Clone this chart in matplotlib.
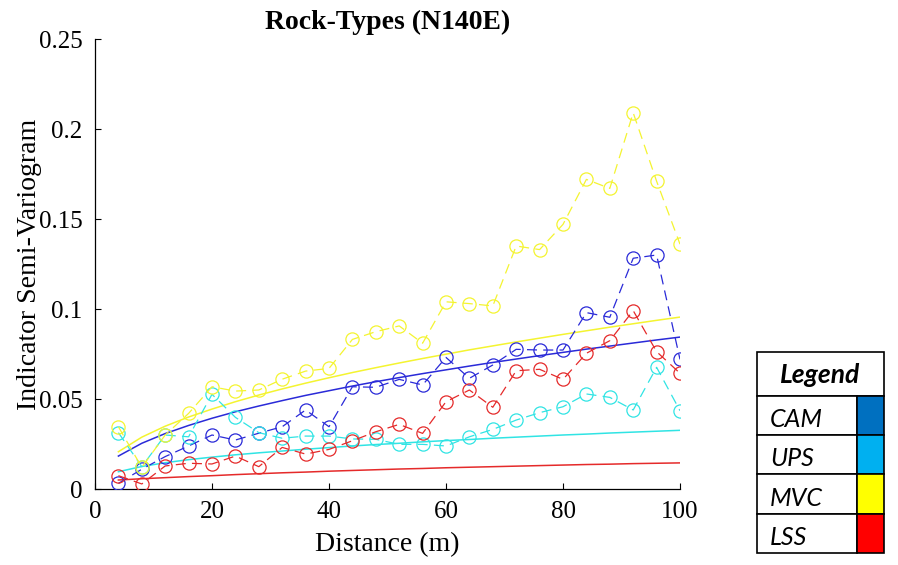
import matplotlib
matplotlib.use('Agg')
from matplotlib import pyplot as plt
from matplotlib.patches import Rectangle

# --- DATA ------------------------------------------------------------+

lags = [4, 8, 12, 16, 20, 24, 28, 32, 36, 40, 44, 48, 52,
        56, 60, 64, 68, 72, 76, 80, 84, 88, 92, 96, 100]

# experimental indicator semi-variograms
cam_exp = [0.0031, 0.011, 0.018, 0.0239, 0.030, 0.0272, 0.031, 0.0346, 0.0439, 0.0346, 0.0568, 0.0565, 0.0609,
           0.0578, 0.0731, 0.0615, 0.0689, 0.0776, 0.0772, 0.0772, 0.098, 0.0954, 0.1282, 0.130, 0.072]
ups_exp = [0.0313, 0.0124, 0.030, 0.029, 0.0526, 0.0398, 0.0313, 0.0282, 0.0294, 0.0294, 0.0278, 0.0276, 0.0248,
           0.0248, 0.0239, 0.029, 0.0331, 0.0383, 0.0424, 0.0457, 0.0528, 0.0509, 0.0439, 0.0676, 0.0435]
mvc_exp = [0.0346, 0.012, 0.030, 0.042, 0.0568, 0.0544, 0.055, 0.061, 0.0655, 0.067, 0.0831, 0.0874, 0.0906,
           0.081, 0.104, 0.103, 0.1017, 0.135, 0.133, 0.147, 0.172, 0.167, 0.209, 0.171, 0.136]
lss_exp = [0.0074, 0.0028, 0.0128, 0.0143, 0.0139, 0.0183, 0.0124, 0.0231, 0.0194, 0.022, 0.0268, 0.0318, 0.0359,
           0.0309, 0.0485, 0.055, 0.0454, 0.0657, 0.0665, 0.0609, 0.0754, 0.0824, 0.0991, 0.0763, 0.0643]

# fitted models at the same lags
cam_fit = [0.0183, 0.0254, 0.0308, 0.0353, 0.0393, 0.0429, 0.0461, 0.0491, 0.0520, 0.0546, 0.0572, 0.0596, 0.0619,
           0.0641, 0.0662, 0.0683, 0.0703, 0.0722, 0.0741, 0.0759, 0.0777, 0.0794, 0.0811, 0.0828, 0.0844]
ups_fit = [0.0096, 0.0125, 0.0146, 0.0163, 0.0177, 0.0190, 0.0201, 0.0211, 0.0221, 0.0230, 0.0239, 0.0247, 0.0254,
           0.0262, 0.0269, 0.0275, 0.0282, 0.0288, 0.0294, 0.0300, 0.0305, 0.0311, 0.0316, 0.0321, 0.0326]
mvc_fit = [0.0207, 0.0288, 0.0349, 0.0400, 0.0444, 0.0485, 0.0522, 0.0556, 0.0588, 0.0618, 0.0647, 0.0674, 0.0700,
           0.0725, 0.0749, 0.0773, 0.0795, 0.0817, 0.0838, 0.0859, 0.0879, 0.0899, 0.0918, 0.0937, 0.0955]
lss_fit = [0.0050, 0.0057, 0.0063, 0.0069, 0.0074, 0.0080, 0.0085, 0.0090, 0.0094, 0.0099, 0.0103, 0.0107, 0.0111,
           0.0114, 0.0118, 0.0121, 0.0124, 0.0127, 0.0130, 0.0133, 0.0136, 0.0138, 0.0141, 0.0143, 0.0145]

rock_types = ['CAM', 'UPS', 'MVC', 'LSS']
legend_colors = ['#0070C0', '#00B0F0', '#FFFF00', '#FF0000']
line_colors = ['#2a2ad8', '#30e4e4', '#f4f430', '#e52a2a']

yticks = [0, 0.05, 0.1, 0.15, 0.2, 0.25]
ytick_labels = ['0', '0.05', '0.1', '0.15', '0.2', '0.25']
xticks = [0, 20, 40, 60, 80, 100]

# --- PLOT ------------------------------------------------------------+

plt.rcParams['font.family'] = ['Liberation Serif', 'DejaVu Serif']

fig = plt.figure(figsize=(8.98, 5.65), dpi=100)
W, H = 898.0, 565.0
ax = fig.add_axes([95 / W, 1 - 489 / H, 585 / W, 450 / H])

exp_series = [cam_exp, ups_exp, mvc_exp, lss_exp]
fit_series = [cam_fit, ups_fit, mvc_fit, lss_fit]

for exp_vals, fit_vals, col in zip(exp_series, fit_series, line_colors):
    ax.plot(lags, exp_vals, linestyle=(0, (8, 5)), color=col, linewidth=0.9,
            marker='o', markersize=9.5, markerfacecolor='none', markeredgecolor=col,
            markeredgewidth=0.9, zorder=3)
    ax.plot(lags, fit_vals, linestyle='-', color=col, linewidth=1.1, zorder=2)

ax.set_xlim(0, 100)
ax.set_ylim(0, 0.25)
ax.set_xticks(xticks)
ax.set_yticks(yticks)
ax.set_yticklabels(ytick_labels)
ax.tick_params(direction='in', length=4, width=0.8, labelsize=18, colors='black')
ax.tick_params(axis='y', pad=9)
ax.tick_params(axis='x', pad=9)
ax.spines['top'].set_visible(False)
ax.spines['right'].set_visible(False)
ax.spines['left'].set_linewidth(0.9)
ax.spines['bottom'].set_linewidth(0.9)

ax.set_xlabel('Distance (m)', fontsize=20, labelpad=6)
ax.set_ylabel('Indicator Semi-Variogram', fontsize=20, labelpad=-2)
ax.set_title('Rock-Types (N140E)', fontsize=20, fontweight='bold', pad=7)

# --- LEGEND TABLE ----------------------------------------------------+

lg = fig.add_axes([0, 0, 1, 1])
lg.set_xlim(0, W)
lg.set_ylim(H, 0)
lg.axis('off')

left, right, split = 757, 884, 857
top, head_bottom = 352, 396
row_h = 39.2

lg.add_patch(Rectangle((left, top), right - left, head_bottom - top,
                       facecolor='white', edgecolor='black', linewidth=1.2))
lg.text((left + right) / 2, (top + head_bottom) / 2 + 1, 'Legend', family='Lato',
        fontsize=19, fontweight='bold', style='italic', ha='center', va='center')

for i, (name, col) in enumerate(zip(rock_types, legend_colors)):
    y0 = head_bottom + i * row_h
    lg.add_patch(Rectangle((left, y0), split - left, row_h,
                           facecolor='white', edgecolor='black', linewidth=1.2))
    lg.add_patch(Rectangle((split, y0), right - split, row_h,
                           facecolor=col, edgecolor='black', linewidth=1.2))
    lg.text(left + 13, y0 + row_h / 2 + 4, name, family='Lato', fontsize=18,
            style='italic', ha='left', va='center')

plt.savefig('out.png', dpi=100)
